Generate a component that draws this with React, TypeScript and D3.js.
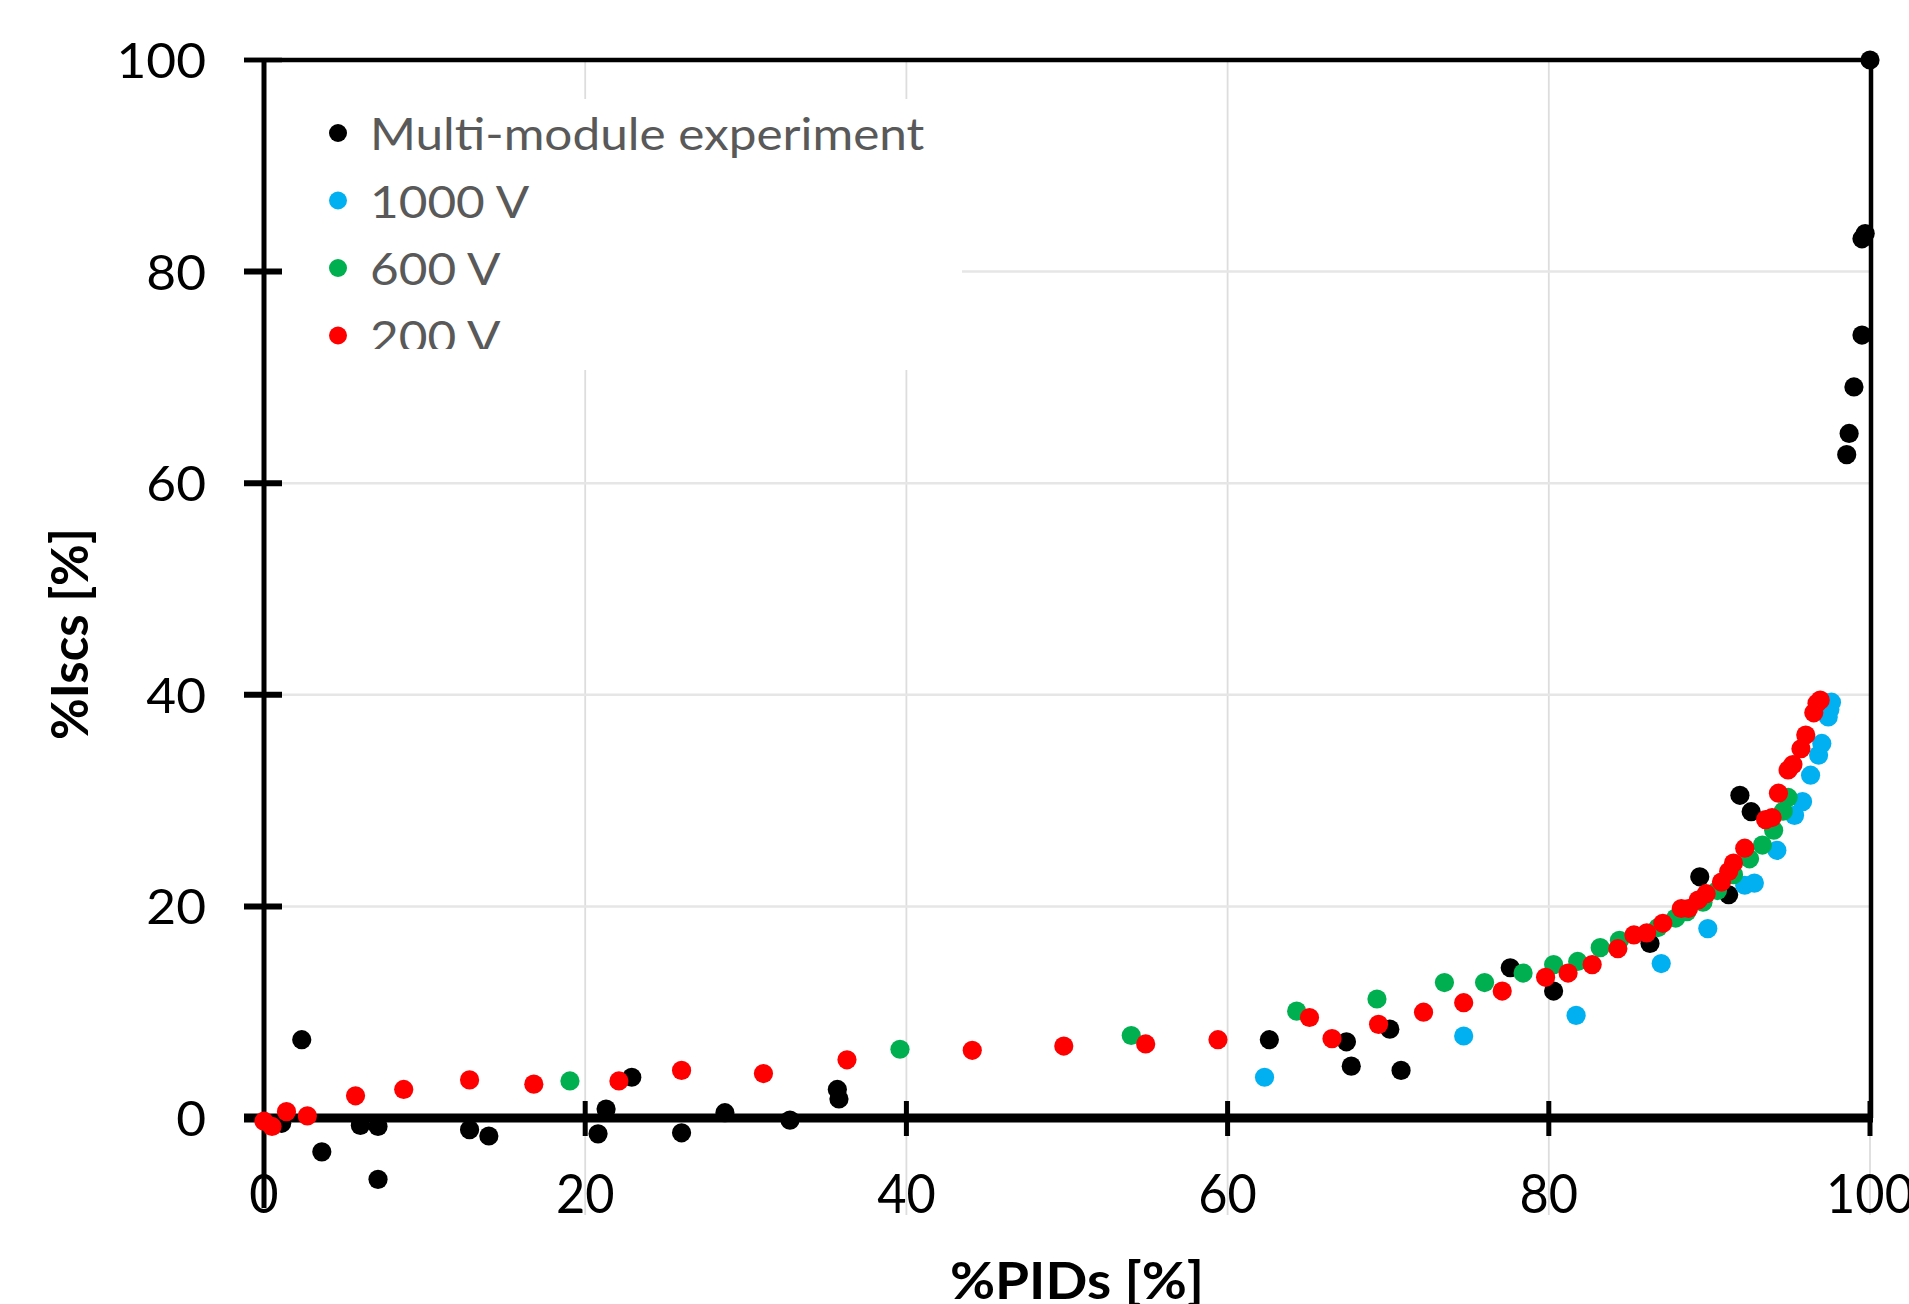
import React from 'react';
import * as d3 from 'd3';

const W = 1909;
const H = 1304;

const seriesNames = ['Multi-module experiment', '1000 V', '600 V', '200 V'];
const seriesColors = ['#000000', '#00B0F0', '#00B050', '#FF0000'];
const xTicks = [0, 20, 40, 60, 80, 100];
const yTicks = [0, 20, 40, 60, 80, 100];
const gridTicks = [20, 40, 60, 80];
const xTitle = '%PIDs [%]';
const yTitle = '%Iscs [%]';

const multiModule: [number, number][] = [
  [1.1, -0.5], [2.35, 7.4], [3.6, -3.2], [6.0, -0.7], [7.1, -0.8], [7.1, -5.8],
  [12.8, -1.1], [14.0, -1.7], [20.8, -1.5], [21.3, 0.85], [22.9, 3.85], [26.0, -1.4],
  [28.7, 0.5], [32.75, -0.2], [35.7, 2.7], [35.8, 1.8], [62.6, 7.4], [67.4, 7.2],
  [67.7, 4.9], [70.1, 8.4], [70.8, 4.5], [77.6, 14.2], [80.3, 12.0], [86.3, 16.5],
  [89.4, 22.8], [91.2, 21.1], [91.9, 30.5], [92.6, 28.95], [98.55, 62.7], [98.7, 64.7],
  [99.0, 69.1], [99.5, 74.0], [99.5, 83.1], [99.7, 83.6], [100, 100],
];

const v1000: [number, number][] = [
  [62.3, 3.85], [74.7, 7.75], [81.7, 9.7], [87.0, 14.6], [89.9, 17.9], [92.2, 22.0],
  [92.8, 22.2], [94.2, 25.3], [95.3, 28.6], [95.8, 29.9], [96.3, 32.4], [96.8, 34.3],
  [97.0, 35.4], [97.4, 37.9], [97.5, 38.6], [97.6, 39.3],
];

const v600: [number, number][] = [
  [19.05, 3.5], [39.6, 6.5], [54.0, 7.8], [64.3, 10.1], [69.3, 11.25], [73.5, 12.8],
  [76.0, 12.8], [78.4, 13.7], [80.3, 14.5], [81.8, 14.8], [83.2, 16.1], [84.4, 16.8],
  [86.8, 18.0], [87.9, 18.9], [88.6, 19.5], [89.6, 20.4], [90.5, 21.5], [91.5, 23.0],
  [92.5, 24.5], [93.3, 25.8], [94.0, 27.2], [94.6, 29.0], [94.9, 30.3],
];

const v200: [number, number][] = [
  [0, -0.3], [0.5, -0.8], [1.4, 0.6], [2.7, 0.2], [5.7, 2.1], [8.7, 2.7], [12.8, 3.6],
  [16.8, 3.2], [22.1, 3.5], [26.0, 4.5], [31.1, 4.2], [36.3, 5.5], [44.1, 6.4],
  [49.8, 6.8], [54.9, 7.0], [59.4, 7.4], [65.1, 9.5], [66.5, 7.5], [69.4, 8.85],
  [72.2, 10.0], [74.7, 10.9], [77.1, 12.0], [79.8, 13.3], [81.2, 13.7], [82.7, 14.5],
  [84.3, 16.0], [85.3, 17.3], [86.1, 17.5], [87.1, 18.4], [88.25, 19.8], [88.7, 19.8],
  [89.3, 20.6], [89.8, 21.2], [90.75, 22.3], [91.2, 23.3], [91.5, 24.1], [92.2, 25.5],
  [93.5, 28.2], [93.9, 28.4], [94.3, 30.7], [94.9, 32.9], [95.2, 33.4], [95.7, 34.9],
  [96.0, 36.2], [96.5, 38.3], [96.7, 39.2], [96.9, 39.5],
];

const allSeries = [multiModule, v1000, v600, v200];

export default function App() {
  const x = d3.scaleLinear().domain([0, 100]).range([264, 1870]);
  const y = d3.scaleLinear().domain([0, 100]).range([1118, 60]);
  const font = 'Lato, "Open Sans", sans-serif';

  const legendX = 338;
  const legendY0 = 133;
  const legendStep = 67.5;

  return (
    <svg
      width={W}
      height={H}
      viewBox={`0 0 ${W} ${H}`}
      style={{ position: 'absolute', left: 0, top: 0, display: 'block', background: '#fff' }}
    >
      <defs>
        <clipPath id="legclip">
          <rect x={266} y={99} width={700} height={250} />
        </clipPath>
      </defs>
      <rect x={0} y={0} width={W} height={H} fill="#fff" />

      {/* gridlines */}
      {gridTicks.map((t) => (
        <line key={'gx' + t} x1={x(t)} x2={x(t)} y1={y(100)} y2={1215} stroke="#DDDDDD" strokeWidth={1.8} />
      ))}
      <line x1={x(100)} x2={x(100)} y1={1118} y2={1215} stroke="#DDDDDD" strokeWidth={1.8} />
      {gridTicks.map((t) => (
        <line key={'gy' + t} x1={x(0)} x2={x(100)} y1={y(t)} y2={y(t)} stroke="#E6E6E6" strokeWidth={2.5} />
      ))}

      {/* legend background */}
      <rect x={267} y={99} width={695} height={271} fill="#fff" />

      {/* axes & frame */}
      <line x1={244} x2={x(100)} y1={y(100)} y2={y(100)} stroke="#000" strokeWidth={4.5} />
      <line x1={x(100) + 1} x2={x(100) + 1} y1={y(100)} y2={y(0)} stroke="#000" strokeWidth={4.5} />
      <line x1={x(0)} x2={x(0)} y1={y(100) - 2} y2={1208} stroke="#000" strokeWidth={5} />
      <line x1={244} x2={x(100) + 3} y1={y(0)} y2={y(0)} stroke="#000" strokeWidth={9} />
      {yTicks.filter((t) => t > 0).map((t) => (
        <line key={'yt' + t} x1={244} x2={282} y1={y(t)} y2={y(t)} stroke="#000" strokeWidth={t === 100 ? 4.5 : 6} />
      ))}
      {xTicks.filter((t) => t > 0).map((t) => (
        <line key={'xt' + t} x1={x(t)} x2={x(t)} y1={1101} y2={1136} stroke="#000" strokeWidth={5} />
      ))}

      {/* tick labels */}
      {yTicks.map((t) => (
        <text
          key={'yl' + t}
          textAnchor="end"
          fontFamily={font}
          fontSize={49}
          fill="#000"
          transform={`translate(206,${y(t) + 18}) scale(1.05,1)`}
        >
          {t}
        </text>
      ))}
      {xTicks.map((t) => (
        <text
          key={'xl' + t}
          textAnchor="middle"
          fontFamily={font}
          fontSize={49}
          fill="#000"
          transform={`translate(${x(t)},1213) scale(1.03,1.12)`}
        >
          {t}
        </text>
      ))}

      {/* data points */}
      {allSeries.map((s, i) => (
        <g key={'s' + i} fill={seriesColors[i]}>
          {s.map((d, j) => (
            <circle key={j} cx={x(d[0])} cy={y(d[1])} r={9.6} />
          ))}
        </g>
      ))}

      {/* legend */}
      <g clipPath="url(#legclip)">
        {seriesNames.map((n, i) => (
          <g key={'lg' + i}>
            <ellipse cx={legendX} cy={legendY0 + i * legendStep} rx={9} ry={9} fill={seriesColors[i]} />
            <text
              fontFamily={font}
              fontSize={45}
              fill="#595959"
              transform={`translate(370,${legendY0 + i * legendStep + 17}) scale(1.1,1)`}
            >
              {n}
            </text>
          </g>
        ))}
      </g>

      {/* axis titles */}
      <text
        transform={`translate(88,634) rotate(-90)`}
        textAnchor="middle"
        fontFamily={font}
        fontWeight="bold"
        fontSize={51}
        fill="#000"
      >
        {yTitle}
      </text>
      <text
        textAnchor="middle"
        fontFamily={font}
        fontWeight="bold"
        fontSize={51}
        fill="#000"
        transform="translate(1077,1299) scale(1.08,1)"
      >
        {xTitle}
      </text>
    </svg>
  );
}
